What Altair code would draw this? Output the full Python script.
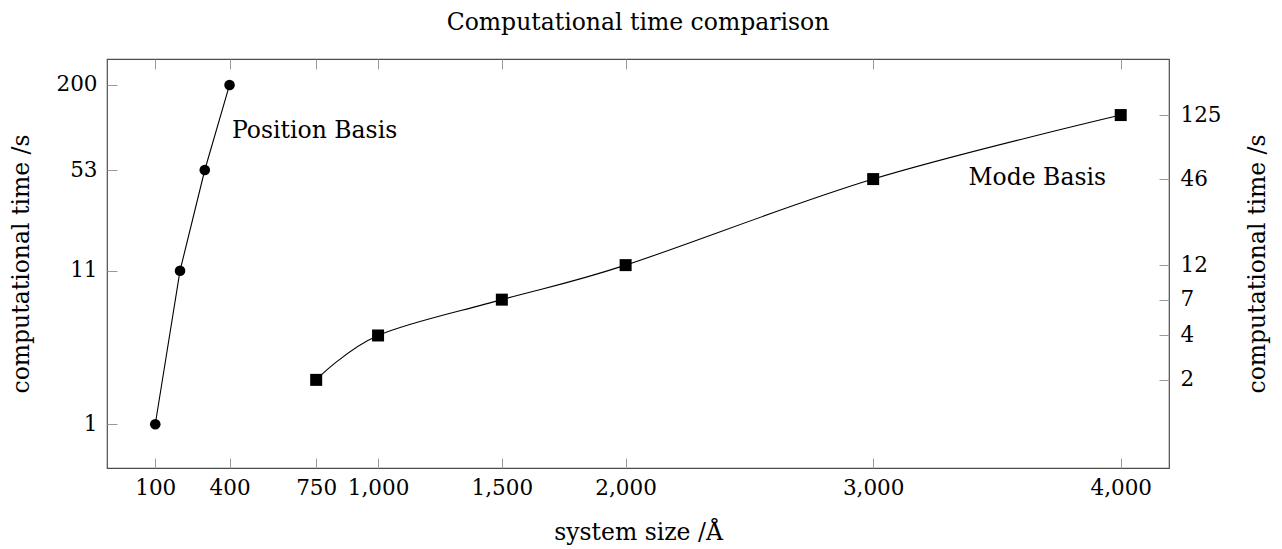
import altair as alt
import pandas as pd

# ---- data ----
pos_size = [100, 200, 300, 400]
pos_time = [1, 11, 53, 200]
mode_size = [750, 1000, 1500, 2000, 3000, 4000]
mode_time = [2, 4, 7, 12, 46, 125]
x_ticks = [100, 400, 750, 1000, 1500, 2000, 3000, 4000]
left_ticks = [1, 11, 53, 200]
right_ticks = [2, 4, 7, 12, 46, 125]
label_text = ["Position Basis", "Mode Basis"]
label_size = [410, 3385]
label_time = [87, 42]

W, H = 1062, 409
FONT = "DejaVu Serif"
FRAME = "#4d4d4d"
TICK = "#9a9a9a"
LAB = 21.5
TIT = 23.5

pos_df = pd.DataFrame({"size": pos_size, "time": pos_time})
mode_df = pd.DataFrame({"size": mode_size, "time": mode_time})
lab_df = pd.DataFrame({"size": label_size, "time": label_time, "text": label_text})


def xs():
    return alt.Scale(domain=[-95, 4195], nice=False, zero=False)


def ys():
    return alt.Scale(type="log", domain=[0.505, 300], nice=False)


common = dict(labelFont=FONT, labelFontSize=LAB, labelColor="black",
              titleFont=FONT, titleFontSize=TIT, titleFontWeight="normal",
              titleColor="black", grid=False)

x_main = alt.Axis(orient="bottom", values=x_ticks,
                  labelExpr="format(datum.value, ',')", ticks=False,
                  domain=False, labelPadding=9, labelFlush=False,
                  labelOverlap=False, title="system size /Å",
                  titleX=W / 2, titleY=64, titleAlign="center",
                  titleBaseline="middle", **common)
y_left = alt.Axis(orient="left", values=left_ticks,
                  labelExpr="format(datum.value, 'd')", ticks=False,
                  domain=False, labelPadding=10, labelOverlap=False,
                  title="computational time /s", titleAngle=270,
                  titleX=21 - 107, titleY=H / 2, titleAlign="center",
                  titleBaseline="middle", **common)
y_right = alt.Axis(orient="right", values=right_ticks,
                   labelExpr="format(datum.value, 'd')", ticks=False,
                   domain=False, labelPadding=11, labelOverlap=False,
                   title="computational time /s", titleAngle=270,
                   titleX=1257 - 1169, titleY=H / 2, titleAlign="center",
                   titleBaseline="middle", **common)

tick_style = dict(labels=False, domain=False, ticks=True, tickSize=10,
                  tickColor=TICK, tickWidth=1, grid=False, title=None)
x_in_bottom = alt.Axis(orient="top", offset=-H, values=x_ticks, **tick_style)
x_in_top = alt.Axis(orient="bottom", offset=-H, values=x_ticks, **tick_style)
y_in_left = alt.Axis(orient="right", offset=-W, values=left_ticks, **tick_style)
y_in_right = alt.Axis(orient="left", offset=-W, values=right_ticks, **tick_style)

pos_line = alt.Chart(pos_df).mark_line(color="black", strokeWidth=1.1).encode(
    x=alt.X("size:Q", scale=xs(), axis=x_main),
    y=alt.Y("time:Q", scale=ys(), axis=y_left),
)
pos_pts = alt.Chart(pos_df).mark_point(shape="circle", filled=True, size=113,
                                       color="black", opacity=1).encode(
    x=alt.X("size:Q", scale=xs(), axis=x_in_bottom),
    y=alt.Y("time:Q", scale=ys(), axis=y_in_left),
)
mode_line = alt.Chart(mode_df).mark_line(color="black", strokeWidth=1.1,
                                         interpolate="cardinal").encode(
    x=alt.X("size:Q", scale=xs(), axis=None),
    y=alt.Y("time:Q", scale=ys(), axis=y_right),
)
mode_pts = alt.Chart(mode_df).mark_point(shape="square", filled=True, size=144,
                                         color="black", opacity=1).encode(
    x=alt.X("size:Q", scale=xs(), axis=x_in_top),
    y=alt.Y("time:Q", scale=ys(), axis=y_in_right),
)
labels = alt.Chart(lab_df).mark_text(font=FONT, fontSize=TIT, align="left",
                                     baseline="alphabetic", color="black").encode(
    x=alt.X("size:Q", scale=xs(), axis=None),
    y=alt.Y("time:Q", scale=ys(), axis=None),
    text="text:N",
)

chart = alt.layer(pos_line, pos_pts, mode_line, mode_pts, labels).resolve_axis(
    x="independent", y="independent"
).properties(
    width=W, height=H,
    title=alt.TitleParams("Computational time comparison", font=FONT,
                          fontSize=TIT, fontWeight="normal", color="black",
                          anchor="middle", frame="group", offset=5,
                          baseline="alphabetic"),
    autosize=alt.AutoSizeParams(type="none"),
    padding={"left": 107, "top": 59, "right": 113, "bottom": 81},
    background="white",
).configure_view(stroke=FRAME, strokeWidth=1.2)

chart.save("out.html", embed_options={"renderer": "svg", "actions": False})
